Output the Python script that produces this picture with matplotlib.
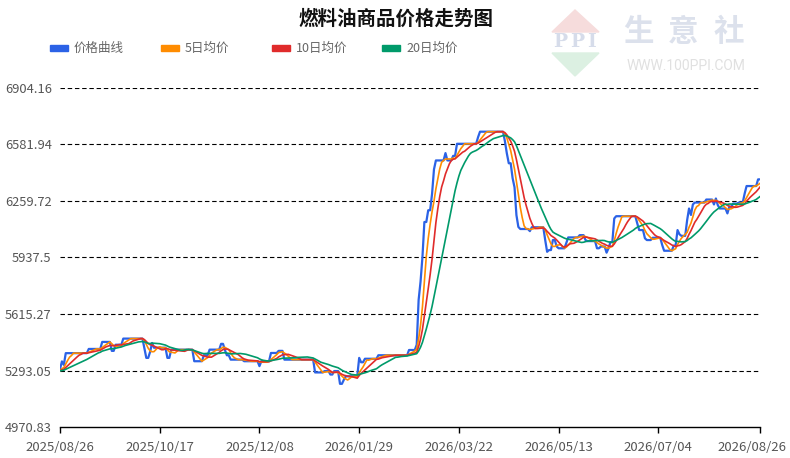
import numpy as np
import pandas as pd
import matplotlib
matplotlib.use("Agg")
import matplotlib.pyplot as plt
import matplotlib.transforms as mtransforms
from matplotlib.patches import Rectangle, Polygon

plt.rcParams['font.family'] = ['Noto Sans CJK SC', 'DejaVu Sans']

# daily price, stored as runs: day index where a value starts, and the value
run_start = [0, 1, 2, 3, 15, 22, 27, 29, 33, 44, 45, 47, 48, 49, 56, 58, 70, 75, 78, 84,
             86, 87, 89, 96, 104, 105, 110, 114, 117, 133, 138, 141, 143, 146, 148, 149,
             156, 157, 159, 166, 182, 186, 187, 188, 189, 190, 192, 194, 195, 196, 201,
             202, 205, 207, 218, 219, 232, 233, 234, 236, 237, 238, 239, 240, 245, 246,
             253, 254, 255, 257, 259, 260, 264, 265, 271, 274, 275, 280, 282, 285, 286,
             287, 289, 290, 301, 302, 305, 306, 309, 314, 315, 320, 322, 323, 324, 327,
             328, 329, 330, 331, 337, 341, 342, 343, 344, 348, 349, 351, 354, 357, 358, 364]
run_value = [5300, 5345, 5325, 5392, 5416, 5456, 5405, 5440, 5475, 5420, 5365, 5400, 5450,
             5423, 5365, 5412, 5346, 5380, 5412, 5445, 5410, 5380, 5355, 5346, 5318, 5346,
             5393, 5405, 5355, 5282, 5290, 5270, 5290, 5217, 5240, 5260, 5365, 5340, 5360,
             5380, 5410, 5440, 5696, 5800, 5942, 6140, 6207, 6300, 6440, 6491, 6533, 6491,
             6517, 6586, 6624, 6655, 6600, 6531, 6475, 6390, 6338, 6179, 6112, 6100, 6088,
             6110, 6037, 5970, 5980, 6037, 6000, 5990, 6020, 6052, 6065, 6037, 6031, 5990,
             6000, 5965, 5990, 6025, 6160, 6173, 6132, 6094, 6047, 6037, 6050, 6009, 5976,
             6005, 6094, 6070, 6061, 6150, 6217, 6180, 6240, 6251, 6268, 6240, 6274, 6236,
             6217, 6189, 6227, 6245, 6251, 6302, 6345, 6383]
# prices before the visible window (needed for the moving averages)
history = [5290] * 19

dates = pd.date_range("2025-08-26", "2026-08-26", freq="D")
tick_dates = ["2025-08-26", "2025-10-17", "2025-12-08", "2026-01-29",
              "2026-03-22", "2026-05-13", "2026-07-04", "2026-08-26"]
tick_labels = ["2025/08/26", "2025/10/17", "2025/12/08", "2026/01/29",
               "2026/03/22", "2026/05/13", "2026/07/04", "2026/08/26"]
y_ticks = [4970.83, 5293.05, 5615.27, 5937.5, 6259.72, 6581.94, 6904.16]
y_labels = ["4970.83", "5293.05", "5615.27", "5937.5", "6259.72", "6581.94", "6904.16"]

lengths = np.diff(run_start + [len(dates)])
price = np.repeat(run_value, lengths).astype(float)
full = pd.Series(history + list(price))
ma5 = full.rolling(5).mean().values[len(history):]
ma10 = full.rolling(10).mean().values[len(history):]
ma20 = full.rolling(20).mean().values[len(history):]

series = [("价格曲线", price, "#2b62e6", 1.6),
          ("5日均价", ma5, "#ff8c00", 1.2),
          ("10日均价", ma10, "#e02b2b", 1.2),
          ("20日均价", ma20, "#009a6a", 1.2)]

W, H = 790, 458
fig = plt.figure(figsize=(W / 100, H / 100), dpi=100)


def fx(x):
    return x / W


def fy(y):
    return 1 - y / H


ax = fig.add_axes([fx(60), fy(427), fx(700), (427 - 88) / H])
for name, vals, col, lw in series:
    ax.plot(dates, vals, color=col, lw=lw, solid_joinstyle="round")

ax.set_xlim(dates[0], dates[-1])
ax.set_ylim(y_ticks[0], y_ticks[-1])
ax.set_yticks(y_ticks)
ax.set_yticklabels(y_labels)
ax.set_xticks(pd.to_datetime(tick_dates))
ax.set_xticklabels(tick_labels)
for v in y_ticks[1:]:
    ax.axhline(v, color="black", lw=0.8, ls=(0, (4, 2.5)), zorder=0)
for s in ["top", "right", "left"]:
    ax.spines[s].set_visible(False)
ax.spines["bottom"].set_color("black")
ax.spines["bottom"].set_linewidth(1)
ax.tick_params(axis="y", length=0, pad=6, labelsize=9.3, labelcolor="#555555")
ax.tick_params(axis="x", length=4, width=1, color="black", pad=6,
               labelsize=9.5, labelcolor="#555555")
# last date label is pushed left so it stays inside the picture
last = ax.get_xticklabels()[-1]
last.set_transform(last.get_transform() +
                   mtransforms.ScaledTranslation(-8 / 100, 0, fig.dpi_scale_trans))

fig.text(fx(396), fy(19), "燃料油商品价格走势图", ha="center", va="center",
         fontsize=14, fontweight="bold", color="#111111")

# legend
leg_x = [50, 161, 272, 382]
for (name, vals, col, lw), lx in zip(series, leg_x):
    fig.add_artist(Rectangle((fx(lx), fy(51)), fx(18), 6 / H, color=col,
                             transform=fig.transFigure))
    fig.text(fx(lx + 24), fy(48), name, ha="left", va="center",
             fontsize=9, color="#666666")

# watermark
fig.add_artist(Polygon([(fx(575), fy(10)), (fx(552), fy(32)), (fx(599), fy(32))],
                       closed=True, color="#f6dcdc", transform=fig.transFigure))
fig.add_artist(Polygon([(fx(552), fy(53)), (fx(599), fy(53)), (fx(575), fy(76))],
                       closed=True, color="#dcf0e2", transform=fig.transFigure))
for ch, cx in zip("PPI", [560.5, 577.5, 592]):
    fig.text(fx(cx), fy(42), ch, ha="center", va="center", fontsize=13.5,
             family="DejaVu Serif", fontweight="bold", color="#d6dcea")
for ch, cx in zip("生意社", [638, 683, 729]):
    fig.text(fx(cx), fy(32), ch, ha="center", va="center", fontsize=22,
             fontweight="bold", color="#dce1ec")
fig.text(fx(686), fy(66), "WWW.100PPI.COM", ha="center", va="center",
         fontsize=10, family="Roboto", color="#e0e0e0")

fig.savefig("out.png", dpi=100)
